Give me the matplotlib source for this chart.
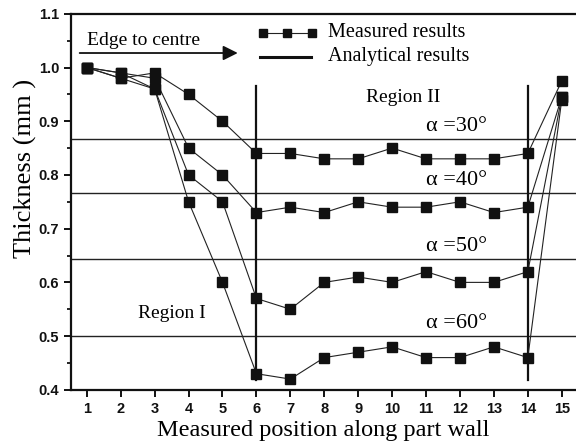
import matplotlib.pyplot as plt
import numpy as np

# measured wall thickness (mm) at each position, one series per wall angle
positions = np.arange(1, 16)
angles = [30, 40, 50, 60]
t_30 = [1.00, 0.98, 0.99, 0.95, 0.90, 0.84, 0.84, 0.83, 0.83, 0.85, 0.83, 0.83, 0.83, 0.84, 0.975]
t_40 = [1.00, 0.99, 0.98, 0.85, 0.80, 0.73, 0.74, 0.73, 0.75, 0.74, 0.74, 0.75, 0.73, 0.74, 0.945]
t_50 = [1.00, 0.98, 0.96, 0.80, 0.75, 0.57, 0.55, 0.60, 0.61, 0.60, 0.62, 0.60, 0.60, 0.62, 0.945]
t_60 = [1.00, 0.99, 0.96, 0.75, 0.60, 0.43, 0.42, 0.46, 0.47, 0.48, 0.46, 0.46, 0.48, 0.46, 0.94]
measured = [t_30, t_40, t_50, t_60]

# sine law: t = t0 * cos(alpha)
t0 = 1.0
analytical = [t0 * np.cos(np.radians(a)) for a in angles]

# region boundaries
boundaries = [6, 14]

serif = 'Liberation Serif'
sans = 'Liberation Sans'

fig = plt.figure(figsize=(5.76, 4.45), dpi=100)
ax = fig.add_axes([0.123, 0.124, 0.877, 0.845])

for t in analytical:
    ax.axhline(t, color='#222222', lw=1.0, zorder=1)

for b in boundaries:
    ax.plot([b, b], [0.418, 0.966], color='#111111', lw=1.6, zorder=2)

for t in measured:
    ax.plot(positions, t, color='#222222', lw=0.8, marker='s', ms=7,
            mfc='#111111', mec='#111111', zorder=3)

# labels for the analytical lines
for a, t in zip(angles, analytical):
    ax.text(11.9, t + 0.024, '\u03b1 =%d\u00b0' % a, fontsize=16,
            family=serif, va='center', ha='center')

ax.text(3.52, 0.543, 'Region I', fontsize=14, family=serif, ha='center', va='center')
ax.text(10.33, 0.944, 'Region II', fontsize=14, family=serif, ha='center', va='center')

# direction arrow
ax.text(1.0, 1.05, 'Edge to centre', fontsize=14, family=serif, ha='left', va='center')
ax.annotate('', xy=(5.45, 1.027), xytext=(0.79, 1.027),
            arrowprops=dict(arrowstyle='-|>', color='#111111', lw=1.3,
                            mutation_scale=22, shrinkA=0, shrinkB=0))

# legend drawn by hand
ax.plot([6.19, 6.9, 7.64], [1.065, 1.065, 1.065], color='#222222', lw=0.8,
        marker='s', ms=6, mfc='#111111', mec='#111111', clip_on=False)
ax.plot([6.1, 7.6], [1.02, 1.02], color='#111111', lw=2.2)
ax.text(8.11, 1.065, 'Measured results', fontsize=14.5, family=serif, va='center')
ax.text(8.11, 1.02, 'Analytical results', fontsize=14.5, family=serif, va='center')

ax.set_xlim(0.53, 15.42)
ax.set_ylim(0.4, 1.1)
ax.set_xticks(positions)
ax.set_yticks(np.arange(0.4, 1.11, 0.1))
ax.set_yticks(np.arange(0.45, 1.1, 0.1), minor=True)
ax.set_yticklabels(['%.1f' % v for v in np.arange(0.4, 1.11, 0.1)])

for lab in ax.get_xticklabels() + ax.get_yticklabels():
    lab.set_fontfamily(sans)
    lab.set_fontweight('bold')
    lab.set_fontsize(10.5)

ax.tick_params(direction='out', width=1.4, length=5, colors='#111111')
ax.tick_params(which='minor', direction='out', width=1.2, length=3)
ax.spines['right'].set_visible(False)
for s in ['left', 'bottom', 'top']:
    ax.spines[s].set_linewidth(1.6)
    ax.spines[s].set_color('#111111')

ax.set_xlabel('Measured position along part wall', fontsize=17.5, family=serif, labelpad=3)
ax.set_ylabel('Thickness (mm )', fontsize=19, family=serif)
ax.yaxis.set_label_coords(-0.067, 0.59)

fig.savefig('out.png', dpi=100)
